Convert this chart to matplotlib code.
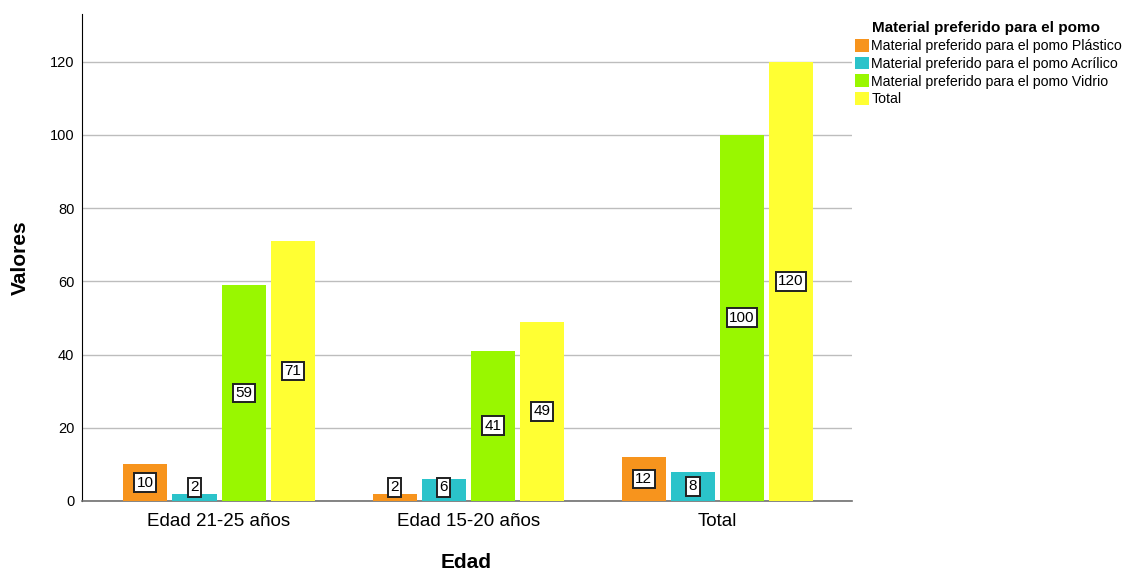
import matplotlib
matplotlib.use("Agg")
import matplotlib.pyplot as plt
import numpy as np
from matplotlib.patches import Patch

plt.rcParams['font.family'] = ['Liberation Sans', 'DejaVu Sans']

categories = ["Edad 21-25 años", "Edad 15-20 años", "Total"]
series_names = [
    "Material preferido para el pomo Plástico",
    "Material preferido para el pomo Acrílico",
    "Material preferido para el pomo Vidrio",
    "Total",
]
plastico = [10, 2, 12]
acrilico = [2, 6, 8]
vidrio = [59, 41, 100]
total = [71, 49, 120]
series_values = [plastico, acrilico, vidrio, total]
colors = ["#F7941D", "#2BC3CA", "#99F700", "#FFFF33"]
legend_title = "Material preferido para el pomo"

W, H = 1129, 573
fig = plt.figure(figsize=(W / 100, H / 100), dpi=100)
ax = fig.add_axes([82 / W, 72 / H, 770 / W, 487 / H])

x = np.arange(len(categories))
step = 0.197
width = 0.177
offsets = (np.arange(len(series_values)) - 1.5) * step

for vals, off, col in zip(series_values, offsets, colors):
    ax.bar(x + off, vals, width=width, color=col, zorder=3)
    for xi, v in zip(x, vals):
        ypos = max(v / 2, 3.8)
        ax.text(xi + off, ypos, str(v), ha="center", va="center", fontsize=11,
                color="black", zorder=5,
                bbox=dict(boxstyle="square,pad=0.16", fc="white", ec="#202020", lw=1.4))

ax.set_xlim(-0.55, 2.54)
ax.set_ylim(0, 133)
ax.set_yticks(range(0, 121, 20))
ax.set_xticks(x)
ax.set_xticklabels(categories, fontsize=13.5)
ax.tick_params(axis="y", length=0, labelsize=10.5, pad=5.5)
ax.tick_params(axis="x", length=0, pad=9)
ax.yaxis.grid(True, color="#BDBDBD", lw=1, zorder=0)
ax.set_axisbelow(True)
for s in ["top", "right"]:
    ax.spines[s].set_visible(False)
ax.spines["left"].set_color("black")
ax.spines["bottom"].set_color("#707070")
ax.spines["bottom"].set_linewidth(1.2)

fig.text(20 / W, 1 - 258 / H, "Valores", rotation=90, ha="center", va="center",
         fontsize=15, fontweight="bold")
fig.text(466 / W, 1 - 563 / H, "Edad", ha="center", va="center",
         fontsize=15, fontweight="bold")

fig.text(872 / W, 1 - 28 / H, legend_title, ha="left", va="center",
         fontsize=11, fontweight="bold")
handles = [Patch(facecolor=c, edgecolor="none") for c in colors]
leg = fig.legend(handles, series_names, loc="upper left",
                 bbox_to_anchor=(855 / W, 1 - 39 / H), frameon=False,
                 fontsize=10.2, handlelength=1.0, handleheight=1.0,
                 handletextpad=0.15, labelspacing=0.25, borderpad=0.0,
                 borderaxespad=0.0)

fig.savefig("out.png", dpi=100)
